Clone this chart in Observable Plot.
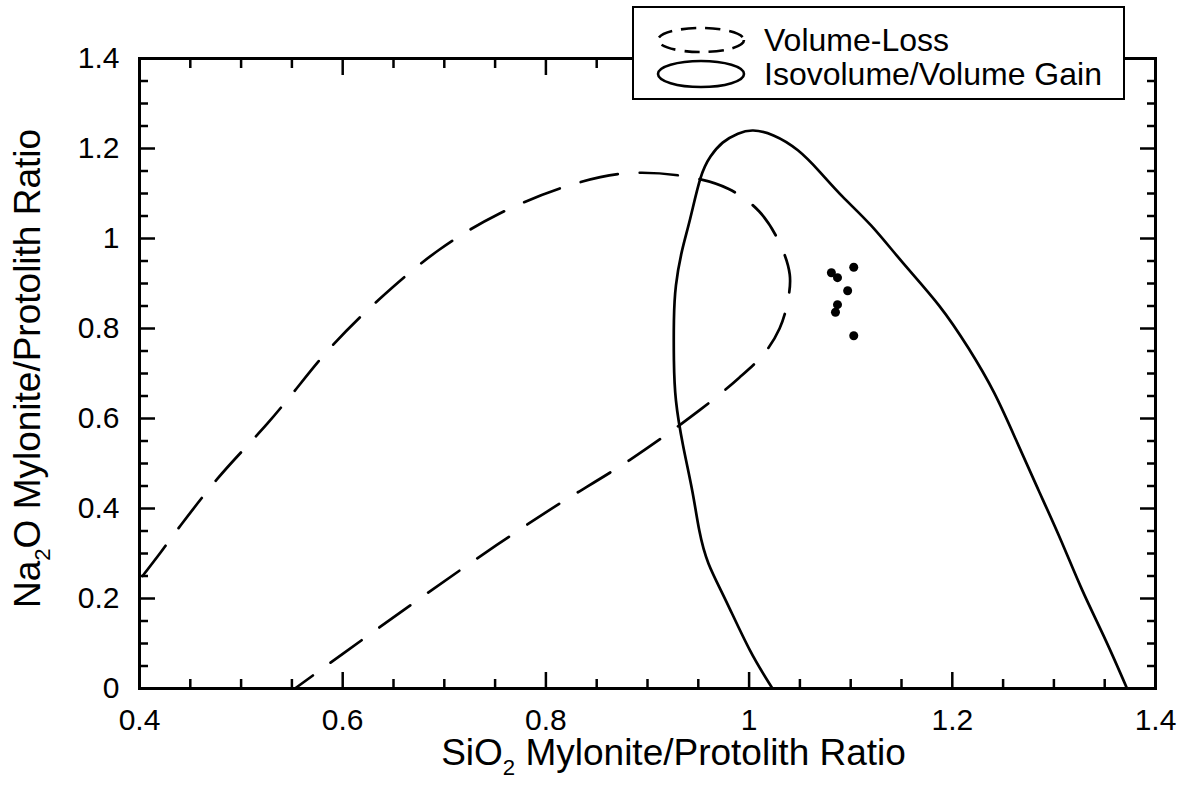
<!DOCTYPE html>
<html><head><meta charset="utf-8">
<script src="https://cdn.jsdelivr.net/npm/d3@7"></script>
<script src="https://cdn.jsdelivr.net/npm/@observablehq/plot@0.6"></script>
<style>
body{margin:0;background:#fff;}
#wrap{position:relative;width:1184px;height:792px;font-family:"Liberation Sans",Arial,Helvetica,sans-serif;color:#000;}
#legend{position:absolute;left:632px;top:6px;width:489px;height:90px;border:2.5px solid #000;background:#fff;}
#legend .row{position:absolute;left:0;height:34px;width:100%;}
#legend svg{position:absolute;left:20px;top:0;}
#legend span{position:absolute;left:130px;top:0;line-height:34px;font-size:32px;white-space:nowrap;}
</style></head><body>
<div id="wrap">
  <div id="legend">
    <div class="row" style="top:15px"><svg width="94" height="34"><ellipse cx="47" cy="17" rx="43" ry="12" fill="none" stroke="#000" stroke-width="2.6" stroke-dasharray="15,9"/></svg><span>Volume-Loss</span></div>
    <div class="row" style="top:49px"><svg width="94" height="34"><ellipse cx="47" cy="17" rx="43" ry="13" fill="none" stroke="#000" stroke-width="2.6"/></svg><span>Isovolume/Volume Gain</span></div>
  </div>
</div>
<script>
// Tick values
const xTicksMajor = [0.4, 0.6, 0.8, 1, 1.2, 1.4];
const yTicksMajor = [0, 0.2, 0.4, 0.6, 0.8, 1, 1.2, 1.4];
const xTicksMinor = [0.45, 0.5, 0.55, 0.65, 0.7, 0.75, 0.85, 0.9, 0.95, 1.05, 1.1, 1.15, 1.25, 1.3, 1.35];
const yTicksMinor = [0.05, 0.1, 0.15, 0.25, 0.3, 0.35, 0.45, 0.5, 0.55, 0.65, 0.7, 0.75, 0.85, 0.9, 0.95, 1.05, 1.1, 1.15, 1.25, 1.3, 1.35];

// Sample points
const sampleSiO2 = [1.081, 1.087, 1.103, 1.097, 1.087, 1.085, 1.103];
const sampleNa2O = [0.924, 0.913, 0.936, 0.884, 0.853, 0.836, 0.784];

// Volume-loss field (dashed)
const lossSiO2 = [0.403, 0.42, 0.439, 0.477, 0.526, 0.545, 0.587, 0.636, 0.695, 0.754, 0.823, 0.88, 0.94, 0.98, 1.01, 1.03, 1.04, 1.038, 1.03, 1.015, 0.99, 0.951, 0.882, 0.803, 0.715, 0.632, 0.553];
const lossNa2O = [0.25, 0.30, 0.358, 0.467, 0.589, 0.64, 0.755, 0.865, 0.975, 1.055, 1.118, 1.145, 1.137, 1.11, 1.06, 0.99, 0.92, 0.86, 0.80, 0.745, 0.69, 0.618, 0.507, 0.396, 0.262, 0.129, 0];

// Isovolume / volume gain field (solid)
const gainSiO2 = [1.023, 1.001, 0.977, 0.960, 0.951, 0.944, 0.935, 0.928, 0.926, 0.926, 0.928, 0.934, 0.942, 0.952, 0.962, 0.974, 0.989, 1.004, 1.024, 1.048, 1.070, 1.092, 1.120, 1.151, 1.187, 1.216, 1.241, 1.263, 1.285, 1.307, 1.328, 1.351, 1.372];
const gainNa2O = [0, 0.084, 0.196, 0.278, 0.351, 0.44, 0.54, 0.64, 0.729, 0.818, 0.896, 0.973, 1.044, 1.133, 1.182, 1.213, 1.233, 1.24, 1.229, 1.196, 1.147, 1.093, 1.029, 0.947, 0.851, 0.756, 0.658, 0.551, 0.44, 0.329, 0.218, 0.107, 0];

const xTitle = "SiO2 Mylonite/Protolith Ratio";
const yTitle = "Na2O Mylonite/Protolith Ratio";

const samples = sampleSiO2.map((x, i) => ({x, y: sampleNa2O[i]}));
const loss = lossSiO2.map((x, i) => ({x, y: lossNa2O[i]}));
const gain = gainSiO2.map((x, i) => ({x, y: gainNa2O[i]}));
const fmt = d => String(+d.toFixed(2));
const blank = () => "";

const chart = Plot.plot({
  width: 1184, height: 792,
  marginLeft: 139, marginRight: 29, marginTop: 58, marginBottom: 104,
  x: {domain: [0.4, 1.4]},
  y: {domain: [0, 1.4]},
  style: {fontFamily: '"Liberation Sans", Arial, Helvetica, sans-serif', fontSize: "30px", color: "#000", background: "#fff", overflow: "visible"},
  marks: [
    Plot.line(loss, {x: "x", y: "y", curve: "catmull-rom", stroke: "#000", strokeWidth: 2.7, strokeDasharray: "38,22"}),
    Plot.line(gain, {x: "x", y: "y", curve: "natural", stroke: "#000", strokeWidth: 2.7}),
    Plot.dot(samples, {x: "x", y: "y", r: 4.5, fill: "#000"}),
    Plot.frame({stroke: "#000", strokeWidth: 3}),
    Plot.axisX({anchor: "bottom", ticks: xTicksMajor, tickSize: -16, tickPadding: 36, tickFormat: fmt, fontSize: 30, strokeWidth: 2.5, label: null}),
    Plot.axisX({anchor: "bottom", ticks: xTicksMinor, tickSize: -9, tickFormat: blank, strokeWidth: 2.5, label: null}),
    Plot.axisX({anchor: "top", ticks: xTicksMajor, tickSize: -16, tickFormat: blank, strokeWidth: 2.5, label: null}),
    Plot.axisX({anchor: "top", ticks: xTicksMinor, tickSize: -9, tickFormat: blank, strokeWidth: 2.5, label: null}),
    Plot.axisY({anchor: "left", ticks: yTicksMajor, tickSize: -16, tickPadding: 36, tickFormat: fmt, fontSize: 30, strokeWidth: 2.5, label: null}),
    Plot.axisY({anchor: "left", ticks: yTicksMinor, tickSize: -9, tickFormat: blank, strokeWidth: 2.5, label: null}),
    Plot.axisY({anchor: "right", ticks: yTicksMajor, tickSize: -16, tickFormat: blank, strokeWidth: 2.5, label: null}),
    Plot.axisY({anchor: "right", ticks: yTicksMinor, tickSize: -9, tickFormat: blank, strokeWidth: 2.5, label: null}),
    Plot.text([xTitle], {frameAnchor: "bottom", lineAnchor: "middle", textAnchor: "middle", dx: 26, dy: 65, fontSize: 37, fill: "#000"}),
    Plot.text([yTitle], {frameAnchor: "left", lineAnchor: "middle", textAnchor: "middle", dx: -111, dy: -5, rotate: -90, fontSize: 37, fill: "#000"})
  ]
});

// subscripts
d3.select(chart).selectAll("text").each(function() {
  const t = this.textContent;
  if (t === xTitle || t === yTitle) {
    const [pre, post] = t.split("2");
    const s = d3.select(this);
    s.text(null);
    s.append("tspan").text(pre);
    s.append("tspan").attr("dy", "0.45em").attr("font-size", "0.6em").text("2");
    s.append("tspan").attr("dy", "-0.27em").text(post);
  }
});

const wrap = document.getElementById("wrap");
wrap.insertBefore(chart, wrap.firstChild);
chart.style.position = "absolute";
chart.style.left = "0";
chart.style.top = "0";
</script>
</body></html>
